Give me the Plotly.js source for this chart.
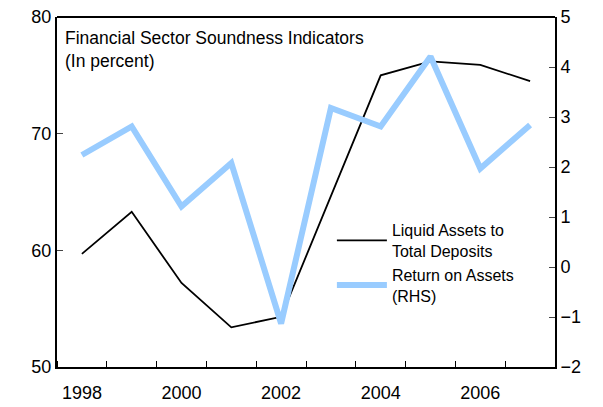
<!DOCTYPE html>
<html>
<head>
<script src="https://cdn.plot.ly/plotly-3.0.1.min.js"></script>
<style>body{margin:0}</style>
</head>
<body>
<div id="chart" style="width:603px;height:407px"></div>
<script>
var years = [1998, 1999, 2000, 2001, 2002, 2003, 2004, 2005, 2006, 2007];
var liquidAssets = [59.7, 63.3, 57.2, 53.4, 54.3, 64.6, 75.0, 76.2, 75.9, 74.5];
var returnOnAssets = [2.24, 2.81, 1.21, 2.08, -1.13, 3.18, 2.81, 4.21, 1.97, 2.84];

var font = {family: 'Arial, Liberation Sans', size: 18, color: '#000'};

var data = [
  {x: years, y: liquidAssets, type: 'scatter', mode: 'lines', name: 'Liquid Assets to<br>Total Deposits',
   line: {color: '#000', width: 1.8}},
  {x: years, y: returnOnAssets, type: 'scatter', mode: 'lines', name: 'Return on Assets<br>(RHS)',
   yaxis: 'y2', line: {color: '#99ccff', width: 6}}
];

var layout = {
  width: 603, height: 407,
  margin: {l: 57, r: 48, t: 17, b: 40},
  paper_bgcolor: '#fff', plot_bgcolor: '#fff',
  font: font,
  showlegend: true,
  legend: {x: 0.552, y: 0.44, xanchor: 'left', yanchor: 'top', bgcolor: 'rgba(0,0,0,0)',
           font: {family: 'Arial, Liberation Sans', size: 16}, tracegroupgap: 2, itemwidth: 50},
  xaxis: {range: [1997.5, 2007.5], tickvals: [1998, 2000, 2002, 2004, 2006], ticks: '',
          showgrid: false, zeroline: false, showline: true, linecolor: '#000', linewidth: 2,
          ticklabelstandoff: 8,
          minor: {tick0: 1997.5, dtick: 1, ticks: 'inside', ticklen: 6, tickcolor: '#000', showgrid: false}},
  yaxis: {range: [50, 80], dtick: 10, ticks: 'inside', ticklen: 6, showgrid: false, zeroline: false,
          showline: true, linecolor: '#000', linewidth: 2},
  yaxis2: {range: [-2, 5], dtick: 1, overlaying: 'y', side: 'right', ticks: 'inside', ticklen: 6,
           showgrid: false, zeroline: false, showline: true, linecolor: '#000', linewidth: 2},
  shapes: [{type: 'line', xref: 'paper', yref: 'paper', x0: 0, x1: 1, y0: 1, y1: 1,
            line: {color: '#000', width: 2}}],
  annotations: [{xref: 'paper', yref: 'paper', x: 0.012, y: 0.975, xanchor: 'left', yanchor: 'top',
    align: 'left', showarrow: false, text: 'Financial Sector Soundness Indicators<br>(In percent)',
    font: {family: 'Arial, Liberation Sans', size: 17.5}}]
};

Plotly.newPlot('chart', data, layout, {displayModeBar: false});
</script>
</body>
</html>
